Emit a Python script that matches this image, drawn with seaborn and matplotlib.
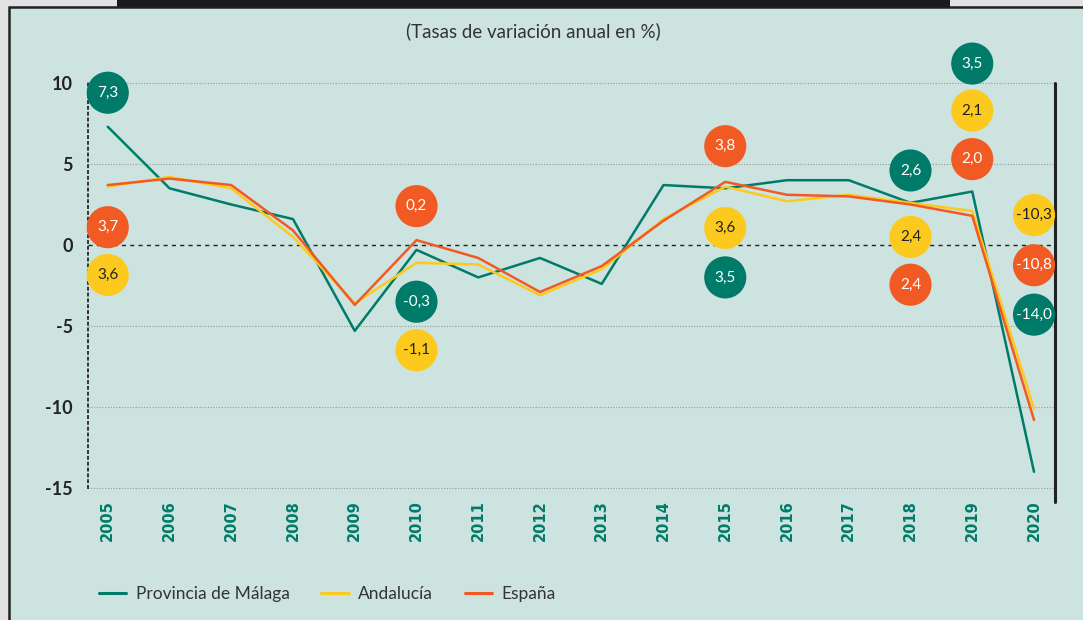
import numpy as np
import pandas as pd
import matplotlib
matplotlib.use("Agg")
import matplotlib.pyplot as plt
from matplotlib.patches import Rectangle
import seaborn as sns

# data
years = list(range(2005, 2021))
malaga = [7.3, 3.5, 2.5, 1.6, -5.3, -0.3, -2.0, -0.8, -2.4, 3.7, 3.5, 4.0, 4.0, 2.6, 3.3, -14.0]
andalucia = [3.6, 4.2, 3.5, 0.5, -3.6, -1.1, -1.2, -3.1, -1.5, 1.6, 3.6, 2.7, 3.1, 2.6, 2.1, -10.1]
espana = [3.7, 4.1, 3.7, 0.9, -3.7, 0.3, -0.8, -2.9, -1.3, 1.5, 3.9, 3.1, 3.0, 2.5, 1.8, -10.8]
series_names = ["Provincia de Málaga", "Andalucía", "España"]

# labelled values (badges) and where they sit
badge_years = [2005, 2010, 2015, 2018, 2019, 2020]
badge_malaga = [7.3, -0.3, 3.5, 2.6, 3.5, -14.0]
badge_andalucia = [3.6, -1.1, 3.6, 2.4, 2.1, -10.3]
badge_espana = [3.7, 0.2, 3.8, 2.4, 2.0, -10.8]
pos_malaga = [9.4, -3.5, -2.0, 4.6, 11.2, -4.3]
pos_andalucia = [-1.85, -6.5, 1.05, 0.5, 8.3, 1.85]
pos_espana = [1.1, 2.4, 6.1, -2.45, 5.3, -1.25]

TEAL = "#007B6A"
YELLOW = "#FCCA1E"
ORANGE = "#F15A22"
PANEL = "#CDE3E0"
W, H = 1083, 620

df = pd.DataFrame({
    "year": years * 3,
    "value": malaga + andalucia + espana,
    "serie": sum([[n] * len(years) for n in series_names], []),
})

sns.set_theme(style="white")
plt.rcParams["font.family"] = ["Lato", "DejaVu Sans"]

fig = plt.figure(figsize=(W / 100, H / 100), dpi=100)
fig.patch.set_facecolor("#e2e2e2")
fig.add_artist(Rectangle((9 / W, -0.1), 1.2, (H - 7) / H + 0.1, transform=fig.transFigure,
                         facecolor=PANEL, edgecolor="#222222", lw=1.8, zorder=-5))
fig.add_artist(Rectangle((117 / W, 1 - 7 / H), (950 - 117) / W, 7 / H, transform=fig.transFigure,
                         facecolor="#1b1b1b", edgecolor="none", zorder=-4))

ax = fig.add_axes([88 / W, 1 - 488 / H, (1055 - 88) / W, (488 - 83) / H])
ax.set_facecolor(PANEL)

sns.lineplot(data=df, x="year", y="value", hue="serie", palette=[TEAL, YELLOW, ORANGE],
             linewidth=1.8, ax=ax, legend=True)

ax.set_xlim(2004.68, 2020.34)
ax.set_ylim(-15, 10)
ax.set_yticks([-15, -10, -5, 0, 5, 10])
ax.set_yticklabels(["-15", "-10", "-5", "0", "5", "10"], fontweight="bold", fontsize=13, color="#222222")
ax.set_xticks(years)
ax.set_xticklabels([str(y) for y in years], rotation=90, fontweight="bold", fontsize=10.5,
                   color=TEAL, family="DejaVu Sans")
ax.tick_params(axis="x", length=0, pad=9)
ax.tick_params(axis="y", length=0, pad=11)
ax.set_xlabel("")
ax.set_ylabel("")

for v in [-15, -10, -5, 5, 10]:
    ax.axhline(v, color="#9a9a9a", ls=(0, (1, 1.5)), lw=0.8, zorder=0, clip_on=False)
ax.axhline(0, color="#222222", ls=(0, (3, 3)), lw=1.0, zorder=0)

for s in ["top", "bottom", "right"]:
    ax.spines[s].set_visible(False)
ax.spines["left"].set_linestyle((0, (1, 2)))
ax.spines["left"].set_color("#333333")
ax.spines["left"].set_linewidth(1.4)
ax.plot([1, 1], [-0.035, 1], transform=ax.transAxes, color="#222222", lw=2.2, clip_on=False)

# badges
for vals, pos, col, tcol in [(badge_malaga, pos_malaga, TEAL, "white"),
                             (badge_andalucia, pos_andalucia, YELLOW, "#222222"),
                             (badge_espana, pos_espana, ORANGE, "white")]:
    ax.scatter(badge_years, pos, s=920, color=col, edgecolors="none", zorder=5, clip_on=False)
    for x, y, v in zip(badge_years, pos, vals):
        ax.text(x, y, f"{v:.1f}".replace(".", ","), ha="center", va="center",
                fontsize=11, color=tcol, zorder=6)

fig.text(533 / W, 1 - 31 / H, "(Tasas de variación anual en %)", ha="center", va="center",
         fontsize=13.5, color="#333333")

handles, labels = ax.get_legend_handles_labels()
for h in handles:
    h.set_linewidth(2.2)
leg = ax.legend(handles, labels, loc="center left", bbox_to_anchor=(83 / W, 1 - 594 / H),
                bbox_transform=fig.transFigure, ncol=3, frameon=False, fontsize=12.5,
                handlelength=1.6, columnspacing=1.8, handletextpad=0.55)
for t in leg.get_texts():
    t.set_color("#333333")

fig.savefig("out.png", dpi=100, facecolor=fig.get_facecolor())
